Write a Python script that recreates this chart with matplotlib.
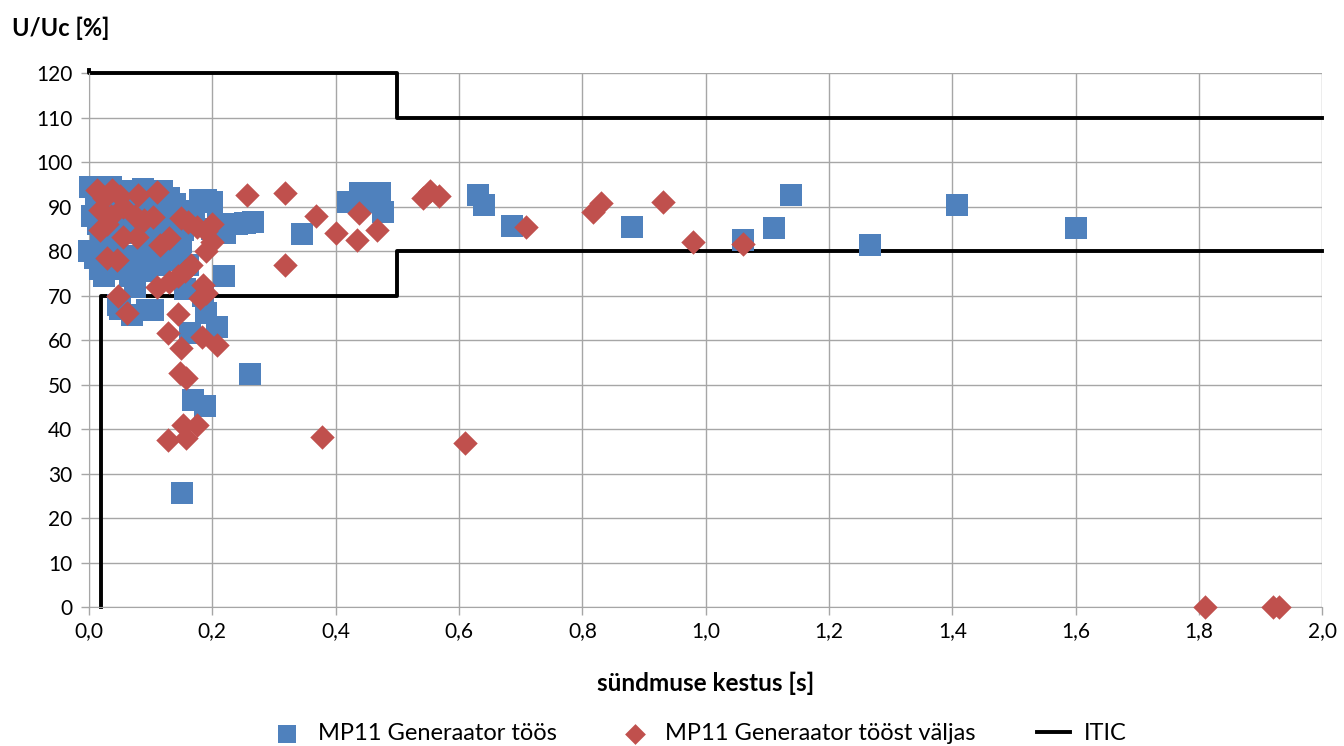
import matplotlib
matplotlib.use("Agg")
import matplotlib.pyplot as plt
from matplotlib.ticker import FuncFormatter

plt.rcParams["font.family"] = ["Lato", "DejaVu Sans"]

# MP11 Generaator töös (kestus s, U/Uc %)
blue_x = [0.002, 0.018, 0.035, 0.05, 0.068, 0.088, 0.1, 0.118, 0.13, 0.14,
          0.005, 0.025, 0.06, 0.08, 0.1, 0.12,
          0.0, 0.01, 0.018, 0.025, 0.045, 0.066, 0.094, 0.075,
          0.04, 0.06, 0.08, 0.1, 0.11, 0.125, 0.09, 0.07,
          0.03, 0.045, 0.015, 0.035, 0.055, 0.075, 0.09, 0.11, 0.125, 0.14,
          0.145, 0.13, 0.115, 0.085, 0.035, 0.055, 0.02, 0.012,
          0.13, 0.14, 0.15, 0.148, 0.16, 0.17, 0.18, 0.19, 0.2, 0.21, 0.22, 0.2,
          0.153, 0.16, 0.155, 0.185, 0.19,
          0.047, 0.05, 0.07, 0.094, 0.104,
          0.164, 0.207, 0.219,
          0.169, 0.188, 0.151, 0.261,
          0.24, 0.253, 0.266, 0.346, 0.42, 0.44, 0.456, 0.472, 0.477,
          0.63, 0.641, 0.686, 0.881, 1.06, 1.11, 1.139, 1.267, 1.408, 1.60]
blue_y = [94.5, 94, 94.5, 93.5, 93.5, 94, 93.5, 93.5, 92, 90.5,
          88, 90, 89, 90, 89, 88,
          80, 78.5, 76, 74.5, 76, 74.5, 75.5, 72,
          82, 84, 86, 84, 81, 80, 80, 79,
          91, 90, 86, 86, 87, 86, 91, 90, 91, 88,
          84, 81, 77, 78, 80, 77, 82, 90,
          85, 87, 82, 78, 88, 89, 91.5, 91.5, 91, 86, 84, 85,
          84.7, 77, 71.5, 70, 66,
          68, 67, 65.6, 66.7, 66.7,
          61.6, 63, 74.4,
          46.5, 45.2, 25.6, 52.4,
          86, 86.3, 86.5, 83.8, 91, 93, 91, 93, 88.8,
          92.6, 90.3, 85.6, 85.4, 82.5, 85.1, 92.6, 81.3, 90.3, 85.3]

# MP11 Generaator tööst väljas
red_x = [0.013, 0.037, 0.025, 0.05, 0.08, 0.11, 0.018, 0.055, 0.035, 0.075,
         0.09, 0.104, 0.018, 0.03, 0.055, 0.078, 0.115, 0.13, 0.029, 0.045,
         0.11, 0.047, 0.061,
         0.15, 0.16, 0.175, 0.19, 0.2, 0.19, 0.2,
         0.13, 0.145, 0.155, 0.165, 0.185, 0.18, 0.19,
         0.145, 0.128, 0.149, 0.183, 0.207, 0.148, 0.158,
         0.128, 0.153, 0.158, 0.175,
         0.256, 0.318, 0.368, 0.318, 0.40, 0.438, 0.435, 0.467, 0.378,
         0.542, 0.553, 0.567, 0.609, 0.709, 0.818, 0.83, 0.93, 0.98, 1.06,
         1.81, 1.92, 1.93]
red_y = [93.7, 93.7, 92, 92.5, 92.6, 93.3, 89.2, 90, 88, 88,
         87, 87.6, 84.7, 86, 83.1, 83.1, 81.3, 83, 78.4, 78,
         72, 70, 66,
         87.5, 86.5, 85.5, 84.5, 86, 80, 82,
         73, 74.5, 75.5, 77, 72.5, 69.5, 70.5,
         65.8, 61.6, 58.2, 60.7, 58.9, 52.6, 51.5,
         37.5, 41, 38, 41,
         92.6, 93, 87.8, 76.9, 84, 88.5, 82.6, 84.8, 38.2,
         92, 93.5, 92.5, 36.8, 85.5, 88.8, 90.8, 91, 82, 81.5,
         0, 0, 0]

# ITIC kõver
itic_up_x = [0.0, 0.0, 0.5, 0.5, 2.0]
itic_up_y = [120.6, 120, 120, 110, 110]
itic_lo_x = [0.02, 0.02, 0.5, 0.5, 2.0]
itic_lo_y = [0, 70, 70, 80, 80]

BLUE = "#4F81BD"
RED = "#C0504D"
GRID = "#A6A6A6"

fig = plt.figure(figsize=(13.44, 7.46), dpi=100)
ax = fig.add_axes([0.0662, 0.186, 0.9178, 0.716])

ax.plot(itic_up_x, itic_up_y, color="black", lw=2.8, zorder=2, label="ITIC",
        clip_on=False)
ax.plot(itic_lo_x, itic_lo_y, color="black", lw=2.8, zorder=2, clip_on=False)
ax.scatter(blue_x, blue_y, marker="s", s=235, color=BLUE, linewidths=0,
           zorder=3, clip_on=False, label="MP11 Generaator töös")
ax.scatter(red_x, red_y, marker="D", s=155, color=RED, linewidths=0,
           zorder=4, clip_on=False, label="MP11 Generaator tööst väljas")

ax.set_xlim(0, 2.0)
ax.set_ylim(0, 120)
ax.set_xticks([i * 0.2 for i in range(11)])
ax.set_yticks(range(0, 121, 10))
ax.xaxis.set_major_formatter(FuncFormatter(lambda v, p: f"{v:.1f}".replace(".", ",")))
ax.grid(True, color=GRID, lw=1)
ax.set_axisbelow(True)
for side in ["top", "right"]:
    ax.spines[side].set_visible(False)
for side in ["left", "bottom"]:
    ax.spines[side].set_color(GRID)
ax.tick_params(axis="both", colors=GRID, labelcolor="black", labelsize=15,
               length=6, width=1)
ax.tick_params(axis="x", pad=4)
ax.tick_params(axis="y", pad=6)

fig.text(0.009, 0.962, "U/Uc [%]", fontsize=17, fontweight="bold", va="center")
fig.text(0.525, 0.084, "sündmuse kestus [s]", fontsize=17.5, fontweight="bold",
         ha="center", va="center")

handles, labels = ax.get_legend_handles_labels()
order = [1, 2, 0]
leg = fig.legend([handles[i] for i in order], [labels[i] for i in order],
                 loc="center", bbox_to_anchor=(0.52, 0.017), ncol=3,
                 frameon=False, fontsize=17, columnspacing=2.6,
                 handlelength=1.4, handletextpad=0.6, markerscale=0.85)

fig.savefig("out.png", dpi=100)
